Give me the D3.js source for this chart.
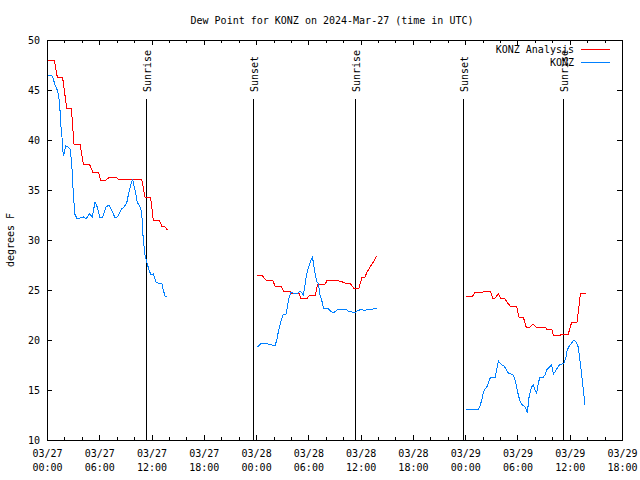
<!DOCTYPE html>
<html><head><meta charset="utf-8">
<script src="https://cdn.jsdelivr.net/npm/d3@7"></script>
<style>
body{margin:0;background:#fff}
text{font-family:"DejaVu Sans Mono",monospace;font-size:10px;fill:#000}
</style>
</head><body><svg id="c" width="640" height="480"></svg>
<script>
// ---------------- data ----------------
const title = "Dew Point for KONZ on 2024-Mar-27 (time in UTC)";
const yLabel = "degrees F";
const startTime = "2024-03-27T00:00:00Z";
const endHours = 66;
const yTicks = [10, 15, 20, 25, 30, 35, 40, 45, 50];
const xMajorHours = [0, 6, 12, 18, 24, 30, 36, 42, 48, 54, 60, 66];
const xMinorHours = d3.range(0, 67, 2);
const eventNames = ["Sunrise", "Sunset", "Sunrise", "Sunset", "Sunrise"];
const eventHours = [11.40, 23.68, 35.39, 47.79, 59.26];
const seriesNames = ["KONZ Analysis", "KONZ"];
const seriesColors = ["#ff0000", "#0080ff"];

// hours since start; null value = gap
const analysisHours = [
  0.15,0.84,1.18,1.80,2.26,2.79,3.10,3.79,4.17,4.86,5.25,5.89,6.16,6.77,7.23,7.84,8.18,10.87,11.25,11.90,12.20,12.89,13.17,13.46,13.81,
  18,
  24.14,24.64,24.83,25.14,25.91,26.17,26.89,27.12,27.89,28.06,28.93,29.10,29.88,30.19,30.80,31.08,31.93,32.17,33.06,33.92,34.21,34.78,35.18,35.81,36.16,36.50,36.69,37.07,37.45,37.84,
  42,
  48.09,48.86,49.13,50.05,50.22,50.91,51.14,51.42,51.80,52.08,52.46,52.80,53.15,53.89,54.18,54.67,55.00,55.44,55.79,56.13,57.16,57.36,57.93,58.12,58.94,59.17,59.84,60.23,60.84,61.24,61.87
];
const analysisValues = [
  48.0,48.0,46.3,46.2,43.2,43.2,39.6,39.6,37.6,37.6,36.8,36.8,36.0,36.0,36.3,36.3,36.1,36.1,34.3,34.2,32.0,32.0,31.4,31.4,31.0,
  null,
  26.5,26.5,26.3,26.0,26.0,25.4,25.4,24.9,24.9,24.7,24.7,24.2,24.2,24.5,24.5,25.6,25.6,26.0,26.0,25.8,25.7,25.7,25.2,25.2,26.3,26.3,26.7,27.3,27.8,28.4,
  null,
  24.4,24.4,24.8,24.8,24.9,24.9,24.2,24.2,24.6,24.2,24.2,23.8,23.4,23.4,22.3,22.3,21.3,21.3,21.6,21.3,21.3,21.1,21.1,20.5,20.5,20.6,20.6,21.8,21.8,24.7,24.7
];
const obsHours = [
  0.15,0.54,0.72,0.92,1.18,1.34,1.49,1.61,1.72,1.80,1.92,1.99,2.15,2.44,2.64,2.84,2.95,3.10,3.13,3.48,3.79,4.17,4.48,4.86,5.20,5.51,5.77,6.08,6.39,6.77,7.12,7.43,7.81,8.07,8.57,8.84,9.15,9.45,9.72,9.84,10.10,10.36,10.67,10.87,11.05,11.25,11.44,11.71,11.94,12.20,12.51,12.78,13.17,13.35,13.54,13.81,
  18,
  24.14,24.64,25.02,25.40,25.79,26.17,26.37,26.55,26.83,27.06,27.44,27.63,27.81,28.01,28.20,28.47,28.78,29.04,29.24,29.42,29.53,29.73,29.92,30.11,30.30,30.45,30.57,30.76,30.96,31.14,31.34,31.53,31.72,31.91,32.22,32.56,32.86,33.17,33.44,33.83,34.21,34.58,34.97,35.35,35.62,36.12,36.39,36.88,37.45,37.84,
  42,
  48.09,48.55,48.75,49.13,49.51,49.70,49.90,50.08,50.28,50.54,50.77,50.93,51.23,51.42,51.62,51.80,52.00,52.19,52.46,52.69,52.95,53.23,53.52,53.72,53.91,54.10,54.29,54.56,54.79,54.98,55.13,55.36,55.64,55.82,56.01,56.21,56.39,56.59,56.90,57.16,57.36,57.66,57.93,58.12,58.31,58.57,58.80,59.08,59.34,59.57,59.72,59.95,60.23,60.49,60.72,60.98,61.17,61.37,61.56,61.75
];
const obsValues = [
  46.5,46.5,46.1,45.5,45.0,44.5,43.0,41.3,40.3,39.0,38.4,38.8,39.4,39.3,39.1,37.7,35.7,33.7,32.7,32.1,32.2,32.3,32.1,32.6,32.3,33.8,33.3,32.2,32.3,33.3,33.5,33.0,32.2,32.3,33.1,33.3,33.7,35.0,35.8,36.0,35.0,33.8,33.3,32.8,30.0,28.5,27.8,27.0,26.5,26.6,25.8,25.7,25.7,25.0,24.4,24.3,
  null,
  19.3,19.7,19.7,19.6,19.5,19.4,20.0,20.8,21.8,22.5,22.6,23.5,24.3,24.8,24.7,24.7,24.7,24.9,24.7,24.5,25.0,26.2,27.0,27.5,28.0,28.3,27.8,26.7,25.8,25.7,24.5,24.0,23.2,23.1,23.2,22.9,22.7,22.9,23.1,23.0,23.1,22.9,22.8,22.7,22.9,23.1,22.9,23.1,23.1,23.2,
  null,
  13.1,13.1,13.0,13.1,13.1,13.4,14.0,14.7,15.1,15.4,16.0,16.3,16.3,16.2,17.0,17.9,17.7,17.5,17.4,17.1,16.7,16.6,16.5,16.0,15.3,14.5,13.9,13.5,13.4,13.1,12.7,14.5,15.3,15.5,15.0,14.7,15.7,16.3,16.2,16.5,17.0,17.3,17.5,16.6,16.8,17.2,17.5,17.6,17.7,18.3,19.0,19.4,19.7,20.0,19.8,19.3,18.0,16.5,15.0,13.5
];

// ---------------- drawing ----------------
const W = 640, H = 480;
const M = {left: 47, right: 622, top: 40, bottom: 440};
const t0 = new Date(startTime);
const hToDate = h => new Date(t0.getTime() + h * 3600e3);

const svg = d3.select("#c");
const x = d3.scaleUtc().domain([t0, hToDate(endHours)]).range([M.left, M.right]);
const y = d3.scaleLinear().domain([10, 50]).range([M.bottom, M.top]);

svg.append("rect").attr("width", W).attr("height", H).attr("fill", "#fff");

// title
svg.append("text").attr("x", 332).attr("y", 23.5).attr("text-anchor", "middle").text(title);

// y label
svg.append("text").attr("transform", "translate(14,240) rotate(-90)")
  .attr("text-anchor", "middle").text(yLabel);

const fmtD = d3.utcFormat("%m/%d"), fmtT = d3.utcFormat("%H:%M");

// bottom axis (major, with labels)
const gB = svg.append("g").attr("transform", `translate(0,${M.bottom})`)
  .call(d3.axisBottom(x).tickValues(xMajorHours.map(hToDate)).tickSizeInner(-5).tickSizeOuter(0).tickPadding(0).tickFormat(""));
gB.selectAll(".tick text").each(function(d) {
  const t = d3.select(this).attr("dy", null).attr("y", null);
  t.append("tspan").attr("x", 0).attr("y", 17).text(fmtD(d));
  t.append("tspan").attr("x", 0).attr("y", 31).text(fmtT(d));
});
// minor bottom
svg.append("g").attr("transform", `translate(0,${M.bottom})`)
  .call(d3.axisBottom(x).tickValues(xMinorHours.map(hToDate)).tickSizeInner(-3).tickSizeOuter(0).tickFormat(""));
// top axis
svg.append("g").attr("transform", `translate(0,${M.top})`)
  .call(d3.axisTop(x).tickValues(xMajorHours.map(hToDate)).tickSizeInner(-5).tickSizeOuter(0).tickFormat(""));
svg.append("g").attr("transform", `translate(0,${M.top})`)
  .call(d3.axisTop(x).tickValues(xMinorHours.map(hToDate)).tickSizeInner(-3).tickSizeOuter(0).tickFormat(""));
// left axis
svg.append("g").attr("transform", `translate(${M.left},0)`)
  .call(d3.axisLeft(y).tickValues(yTicks).tickSizeInner(-5).tickSizeOuter(0).tickPadding(7).tickFormat(d3.format("d")));
// right axis
svg.append("g").attr("transform", `translate(${M.right},0)`)
  .call(d3.axisRight(y).tickValues(yTicks).tickSizeInner(-5).tickSizeOuter(0).tickFormat(""));

svg.selectAll(".domain").remove();
svg.selectAll(".tick line").attr("stroke", "#000").attr("shape-rendering", "crispEdges");
svg.selectAll(".tick text").attr("font-family", null).attr("font-size", null).attr("fill", "#000");

// border
svg.append("rect").attr("x", M.left + 0.5).attr("y", M.top + 0.5)
  .attr("width", M.right - M.left).attr("height", M.bottom - M.top)
  .attr("fill", "none").attr("stroke", "#000").attr("shape-rendering", "crispEdges");

// event lines
eventHours.forEach((h, i) => {
  const xp = Math.round(x(hToDate(h))) + 0.5;
  svg.append("line").attr("x1", xp).attr("x2", xp).attr("y1", y(10)).attr("y2", 99)
    .attr("stroke", "#000").attr("stroke-width", 1.2).attr("shape-rendering", "crispEdges");
  svg.append("text").attr("transform", `translate(${xp + 4},92) rotate(-90)`)
    .attr("text-anchor", "start").text(eventNames[i]);
});

// series
const line = d3.line().defined(d => d.v !== null).x(d => x(hToDate(d.h))).y(d => y(d.v));
const series = [
  analysisHours.map((h, i) => ({h, v: analysisValues[i]})),
  obsHours.map((h, i) => ({h, v: obsValues[i]}))
];
series.forEach((s, i) => {
  svg.append("path").datum(s).attr("d", line).attr("fill", "none")
    .attr("stroke", seriesColors[i]).attr("stroke-width", 1)
    .attr("shape-rendering", "crispEdges");
});

// legend
seriesNames.forEach((n, i) => {
  const ly = 49.5 + i * 13;
  svg.append("text").attr("x", 574).attr("y", ly + 3.8).attr("text-anchor", "end").text(n);
  svg.append("line").attr("x1", 581).attr("x2", 610).attr("y1", ly).attr("y2", ly)
    .attr("stroke", seriesColors[i]).attr("stroke-width", 1).attr("shape-rendering", "crispEdges");
});
</script>
</body></html>
